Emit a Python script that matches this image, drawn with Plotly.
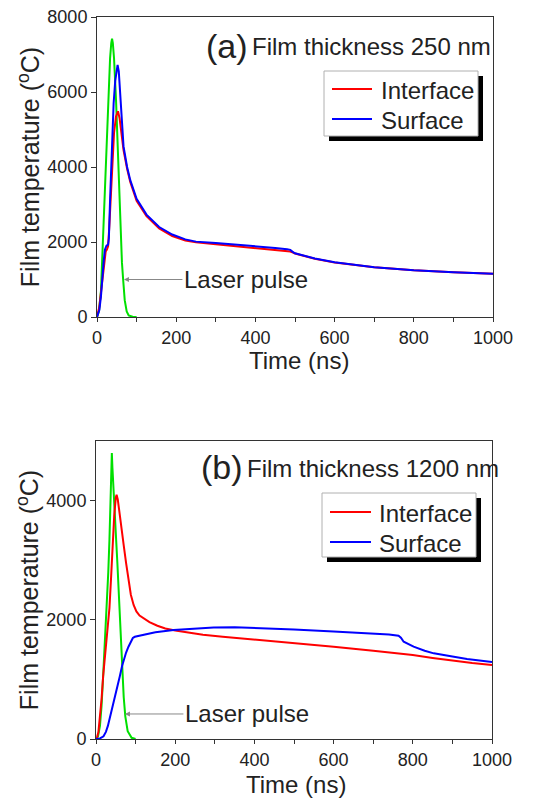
import plotly.graph_objects as go

# ---------------- data: (a) film thickness 250 nm ----------------
laser_a_t = [0, 5, 10, 14, 18, 22, 28, 33, 36, 38, 40, 43, 48, 54, 57, 60, 63, 66, 70, 75, 80, 90, 100]
laser_a_T = [0, 150, 700, 1800, 2900, 4000, 5800, 6900, 7300, 7420, 7300, 6900, 5800, 4000, 3000, 2000, 1450, 1000, 450, 150, 40, 5, 0]

interface_a_t = [0, 3, 6, 10, 16, 20, 22, 25, 28, 31, 34, 38, 43, 48, 53, 57, 61, 67, 76, 84, 100, 125, 157, 190, 223, 250,
                 300, 350, 400, 450, 480, 488, 495, 500, 550, 600, 700, 800, 900, 1000]
interface_a_T = [0, 120, 284, 650, 1262, 1650, 1751, 1800, 1885, 2400, 3129, 4000, 4907, 5350, 5485, 5300, 4950, 4450, 3950,
                 3600, 3100, 2690, 2360, 2160, 2040, 1990, 1940, 1890, 1840, 1790, 1760, 1745, 1720, 1695, 1555, 1455,
                 1325, 1245, 1192, 1152]

surface_a_t = [0, 3, 6, 10, 14, 17, 20, 24, 28, 30, 33, 36, 38.5, 42, 46, 49, 52, 55, 58, 61, 64, 67, 76, 84, 100, 125, 157,
               190, 223, 250, 300, 350, 400, 450, 480, 488, 495, 500, 550, 600, 700, 800, 900, 1000]
surface_a_T = [0, 80, 195, 550, 1173, 1500, 1795, 1900, 1929, 2100, 3129, 4100, 4907, 5700, 6300, 6600, 6720, 6550, 6100,
               5530, 5000, 4550, 4000, 3650, 3150, 2730, 2400, 2200, 2070, 2010, 1975, 1935, 1890, 1840, 1810, 1790, 1730,
               1700, 1560, 1460, 1330, 1250, 1195, 1155]

# ---------------- data: (b) film thickness 1200 nm ----------------
laser_b_t = [0, 5, 10, 14, 18, 23, 27, 31, 34, 37, 38.5, 40, 41.5, 43, 46, 50, 54, 58, 62, 66, 70, 74, 80, 90, 100]
laser_b_T = [0, 40, 220, 550, 1050, 1650, 2200, 2800, 3350, 4100, 4550, 4800, 4550, 4300, 3900, 3450, 2950, 2350, 1750,
             1150, 700, 380, 130, 20, 0]

interface_b_t = [0, 3, 6, 10, 14, 18, 22, 26, 30, 34, 38, 42, 46, 50, 52, 55, 58, 62, 66, 70, 76, 82, 88, 95, 102, 110,
                 120, 135, 155, 175, 200, 230, 270, 320, 400, 500, 600, 700, 760, 800, 850, 900, 950, 1000]
interface_b_T = [0, 40, 111, 350, 667, 1050, 1350, 1600, 1850, 2200, 2700, 3250, 3750, 4050, 4100, 4020, 3850, 3650, 3450,
                 3250, 2950, 2650, 2420, 2250, 2140, 2070, 2020, 1960, 1900, 1855, 1820, 1785, 1750, 1715, 1671, 1610,
                 1549, 1482, 1445, 1410, 1360, 1315, 1275, 1242]

surface_b_t = [0, 10, 19, 25, 30, 36, 42, 48, 53, 60, 66, 70, 76, 82, 88, 93, 98, 112, 150, 196, 250, 297, 350, 400, 500,
               600, 700, 740, 764, 770, 777, 790, 802, 830, 853, 900, 937, 1000]
surface_b_T = [0, 10, 45, 120, 220, 379, 560, 720, 880, 1050, 1230, 1330, 1450, 1549, 1640, 1695, 1715, 1738, 1790, 1827,
               1855, 1872, 1875, 1866, 1838, 1805, 1772, 1755, 1733, 1700, 1632, 1585, 1549, 1480, 1437, 1385, 1342, 1292]

x_ticks = [0, 200, 400, 600, 800, 1000]
y_ticks_a = [0, 2000, 4000, 6000, 8000]
y_ticks_b = [0, 2000, 4000]
series_names = ["Interface", "Surface"]

RED = "#ff0000"
BLUE = "#0000ff"
GREEN = "#00e000"
TXT = "#222222"
FONT = "Liberation Sans, Arial, sans-serif"
W, H = 537, 800


def px(x):
    return x / W


def py(y):
    return 1 - y / H


fig = go.Figure()
lw = 2
fig.add_trace(go.Scatter(x=laser_a_t, y=laser_a_T, mode="lines", name="Laser pulse",
                         line=dict(color=GREEN, width=lw), xaxis="x", yaxis="y"))
fig.add_trace(go.Scatter(x=interface_a_t, y=interface_a_T, mode="lines", name=series_names[0],
                         line=dict(color=RED, width=lw), xaxis="x", yaxis="y"))
fig.add_trace(go.Scatter(x=surface_a_t, y=surface_a_T, mode="lines", name=series_names[1],
                         line=dict(color=BLUE, width=lw), xaxis="x", yaxis="y"))

fig.add_trace(go.Scatter(x=laser_b_t, y=laser_b_T, mode="lines", name="Laser pulse",
                         line=dict(color=GREEN, width=lw), xaxis="x2", yaxis="y2"))
fig.add_trace(go.Scatter(x=interface_b_t, y=interface_b_T, mode="lines", name=series_names[0],
                         line=dict(color=RED, width=lw), xaxis="x2", yaxis="y2"))
fig.add_trace(go.Scatter(x=surface_b_t, y=surface_b_T, mode="lines", name=series_names[1],
                         line=dict(color=BLUE, width=lw), xaxis="x2", yaxis="y2"))

axis_common = dict(showline=True, linecolor="#333", linewidth=1, mirror=True, showgrid=False, zeroline=False,
                   ticks="outside", ticklen=5, tickcolor="#333", automargin=False,
                   tickfont=dict(size=18, color=TXT, family=FONT))
xa = dict(axis_common, range=[0, 1000], tickvals=x_ticks, ticklen=4,
          minor=dict(ticks="outside", ticklen=4, tickcolor="#333", dtick=100, tick0=0))
ytitle = dict(text="Film temperature (<sup>o</sup>C)", font=dict(size=25, color=TXT, family=FONT), standoff=0)

fig.update_layout(
    width=W, height=H, margin=dict(l=0, r=0, t=0, b=0, autoexpand=False),
    paper_bgcolor="white", plot_bgcolor="white",
    font=dict(family=FONT), showlegend=False,
    xaxis=dict(xa, domain=[px(97), px(493)], anchor="y"),
    yaxis=dict(axis_common, range=[0, 8000], tickvals=y_ticks_a, domain=[py(317), py(17)], anchor="x",
               title=ytitle),
    xaxis2=dict(xa, domain=[px(96), px(492)], anchor="y2"),
    yaxis2=dict(axis_common, range=[0, 5000], tickvals=y_ticks_b, domain=[py(739), py(441)], anchor="x2",
                title=ytitle),
)

ann = []
# x-axis titles
for cx, cy in [(299, 361), (296, 784)]:
    ann.append(dict(text="Time (ns)", xref="paper", yref="paper", x=px(cx), y=py(cy), xanchor="center",
                    yanchor="middle", showarrow=False, font=dict(size=24, color=TXT, family=FONT)))

# legend boxes (drawn as shapes with real text labels)
legend_specs = [
    # box left, right, top, bottom, line x0, x1, row y's, text x
    (324, 478, 71, 136, 332, 372, (89, 119), 379),
    (322, 476, 493, 557, 330, 371, (512, 542), 377),
]
for (bl, br, bt, bb, lx0, lx1, rows, tx) in legend_specs:
    fig.add_shape(type="rect", xref="paper", yref="paper", x0=px(bl + 5), x1=px(br + 5),
                  y0=py(bb + 5), y1=py(bt + 5), fillcolor="black", line=dict(width=0), layer="above")
    fig.add_shape(type="rect", xref="paper", yref="paper", x0=px(bl), x1=px(br),
                  y0=py(bb), y1=py(bt), fillcolor="white", line=dict(color="#b0b0b0", width=1), layer="above")
    for name, color, ry in zip(series_names, [RED, BLUE], rows):
        fig.add_shape(type="line", xref="paper", yref="paper", x0=px(lx0), x1=px(lx1), y0=py(ry), y1=py(ry),
                      line=dict(color=color, width=2), layer="above")
        ann.append(dict(text=name, xref="paper", yref="paper", x=px(tx), y=py(ry + 1), xanchor="left",
                        yanchor="middle", showarrow=False, font=dict(size=24, color=TXT, family=FONT)))

for label, title, lx, tx, ty in [("(a)", "Film thickness 250 nm", 204, 250, 46),
                                 ("(b)", "Film thickness 1200 nm", 199, 245, 467)]:
    ann.append(dict(text=label, xref="paper", yref="paper", x=px(lx), y=py(ty), xanchor="left", yanchor="middle",
                    showarrow=False, font=dict(size=34, color=TXT, family=FONT)))
    ann.append(dict(text=title, xref="paper", yref="paper", x=px(tx), y=py(ty + 1), xanchor="left",
                    yanchor="middle", showarrow=False, font=dict(size=24, color=TXT, family=FONT)))

for xr, yr, hx, hy in [("x", "y", 68, 1000), ("x2", "y2", 73, 420)]:
    ann.append(dict(text="Laser pulse", xref=xr, yref=yr, x=hx, y=hy, ax=122, ay=0, showarrow=True,
                    arrowhead=2, arrowsize=1, arrowwidth=1, arrowcolor="#888",
                    font=dict(size=24, color=TXT, family=FONT)))
fig.update_layout(annotations=ann)

fig.write_html("out.html")
